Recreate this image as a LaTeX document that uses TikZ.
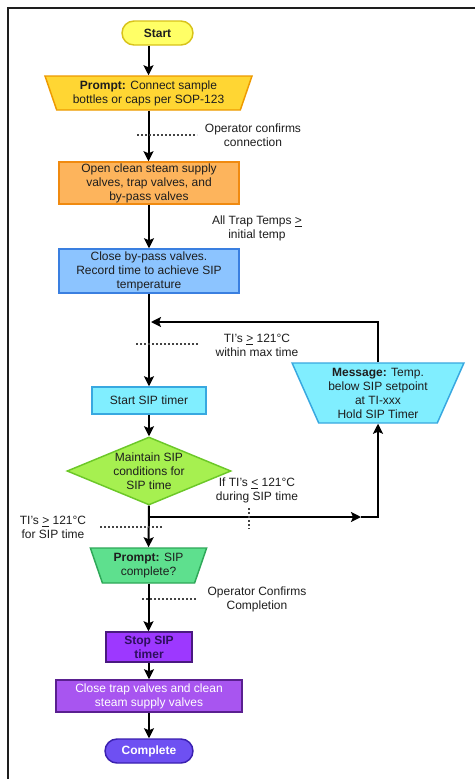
\documentclass[tikz,border=0pt]{standalone}
\usepackage{fontspec}
\setmainfont{Liberation Sans}
\usetikzlibrary{shapes.geometric,arrows.meta}

\definecolor{ink}{HTML}{1E1E1E}
\definecolor{startfill}{HTML}{FFFF66}
\definecolor{startdraw}{HTML}{D8C21A}
\definecolor{promptfill}{HTML}{FFD633}
\definecolor{promptdraw}{HTML}{EE9A00}
\definecolor{openfill}{HTML}{FDB45C}
\definecolor{opendraw}{HTML}{F08A10}
\definecolor{closefill}{HTML}{8CC4FF}
\definecolor{closedraw}{HTML}{3A7FE0}
\definecolor{cyanfill}{HTML}{80EEFF}
\definecolor{cyandraw}{HTML}{38A8E0}
\definecolor{diafill}{HTML}{A6F050}
\definecolor{diadraw}{HTML}{6CC828}
\definecolor{donefill}{HTML}{5EE08E}
\definecolor{donedraw}{HTML}{2EA858}
\definecolor{stopfill}{HTML}{9D38FF}
\definecolor{stopdraw}{HTML}{4A1A80}
\definecolor{stoptext}{HTML}{2E0F5E}
\definecolor{shutfill}{HTML}{A855F0}
\definecolor{shutdraw}{HTML}{5A2090}
\definecolor{endfill}{HTML}{6E50F2}
\definecolor{enddraw}{HTML}{3A20B0}
\definecolor{tick}{HTML}{444444}

\newcommand\lbl{\fontsize{9}{10.5}\selectfont}

\begin{document}
\begin{tikzpicture}[x=0.75pt,y=-0.75pt,
  every node/.style={font=\lbl, text=ink},
  shp/.style={draw, line width=1.1pt, align=center, inner sep=1pt},
  term/.style={shp, rectangle, rounded corners=9pt},
  boxed/.style={shp, rectangle},
  trap/.style={shp, trapezium, shape border rotate=180, trapezium stretches=true},
  dia/.style={shp, diamond, aspect=2.4, inner sep=0pt},
  arr/.style={draw=black, line width=1.5pt, -{Stealth[length=7.5pt,width=7.5pt,inset=1.5pt]}},
  dots/.style={draw=tick, line width=0.8pt, dash pattern=on 1.3pt off 1.7pt},
  note/.style={align=center, inner sep=0pt}
]
\useasboundingbox (0,0) rectangle (475,779);
\fill[white] (0,0) rectangle (475,779);

% page frame (top and left rules)
\draw[line width=1.5pt, draw=ink] (8,779) -- (8,8) -- (475,8);

% process steps
\node[term, fill=startfill, draw=startdraw, minimum width=53.25pt, minimum height=18pt] (start) at (157.5,33) {\bfseries Start};
\node[trap, fill=promptfill, draw=promptdraw, minimum width=155.25pt, minimum height=25.5pt, trapezium angle=70.6] (p1) at (148.5,93)
  {\textbf{Prompt:} Connect sample\\bottles or caps per SOP-123};
\node[boxed, fill=openfill, draw=opendraw, minimum width=135pt, minimum height=31.5pt] (open) at (149,183)
  {Open clean steam supply\\valves, trap valves, and\\by-pass valves};
\node[boxed, fill=closefill, draw=closedraw, minimum width=135pt, minimum height=33pt] (bypass) at (149,271)
  {Close by-pass valves.\\Record time to achieve SIP\\temperature};
\node[boxed, fill=cyanfill, draw=cyandraw, minimum width=85.5pt, minimum height=20.25pt] (timer) at (149,400.5) {Start SIP timer};
\node[trap, fill=cyanfill, draw=cyandraw, minimum width=129pt, minimum height=45pt, trapezium angle=66.6] (msg) at (378,393)
  {\textbf{Message:} Temp.\\below SIP setpoint\\at TI-xxx\\Hold SIP Timer};
\node[dia, fill=diafill, draw=diadraw, minimum width=123pt, minimum height=51pt] (hold) at (149,471)
  {Maintain SIP\\conditions for\\SIP time};
\node[trap, fill=donefill, draw=donedraw, minimum width=87.75pt, minimum height=26.25pt, trapezium angle=71] (p2) at (148.5,565.5)
  {\textbf{Prompt:} SIP\\complete?};
\node[boxed, fill=stopfill, draw=stopdraw, minimum width=64.5pt, minimum height=22.5pt, text=stoptext] (stop) at (149,647)
  {\bfseries Stop SIP\\\bfseries timer};
\node[boxed, fill=shutfill, draw=shutdraw, minimum width=139.5pt, minimum height=24pt, text=white] (shut) at (149,696)
  {Close trap valves and clean\\steam supply valves};
\node[term, fill=endfill, draw=enddraw, minimum width=66pt, minimum height=18pt, text=white] (done) at (149,751) {\bfseries Complete};

% condition labels
\node[note] (c1) at (253,135) {Operator confirms\\connection};
\node[note] (c2) at (257,228.5) {All Trap Temps \underline{>}\\initial temp};
\node[note] (c3) at (257,345.5) {TI's \underline{>} 121°C\\within max time};
\node[note] (c4) at (257,490) {If TI's \underline{<} 121°C\\during SIP time};
\node[note] (c5) at (53,527) {TI's \underline{>} 121°C\\for SIP time};
\node[note] (c6) at (257,599) {Operator Confirms\\Completion};

% junction points
\coordinate (merge) at (151,322);
\coordinate (branch) at (149,517);
\coordinate (midtip) at (361,517);

% main flow
\draw[arr] (p1.north |- start.south) -- (p1.north);
\draw[arr] (p1.south) -- (p1.south |- open.north);
\draw[arr] (open) -- (bypass);
\draw[arr] (bypass) -- (timer);
\draw[arr] (timer) -- (hold);
\draw[arr] (hold.south) -- (p2.north);
\draw[arr] (p2.south) -- (p2.south |- stop.north);
\draw[arr] (stop) -- (shut);
\draw[arr] (shut) -- (done);

% hold loop
\draw[arr] (branch) -- (midtip);
\draw[arr] (midtip) -| (msg.south);
\draw[arr] (msg.north) |- (merge);

% condition ticks
\coordinate (t1a) at (137,135);  \coordinate (t1b) at (197,135);
\coordinate (t3a) at (136,344);  \coordinate (t3b) at (198,344);
\coordinate (t4a) at (249,508);  \coordinate (t4b) at (249,529);
\coordinate (t5a) at (100,527);  \coordinate (t5b) at (163,527);
\coordinate (t6a) at (142,599);  \coordinate (t6b) at (197,599);
\draw[dots] (t1a) -- (t1b);
\draw[dots] (t3a) -- (t3b);
\draw[dots] (t4a) -- (t4b);
\draw[dots] (t5a) -- (t5b);
\draw[dots] (t6a) -- (t6b);
\end{tikzpicture}
\end{document}
